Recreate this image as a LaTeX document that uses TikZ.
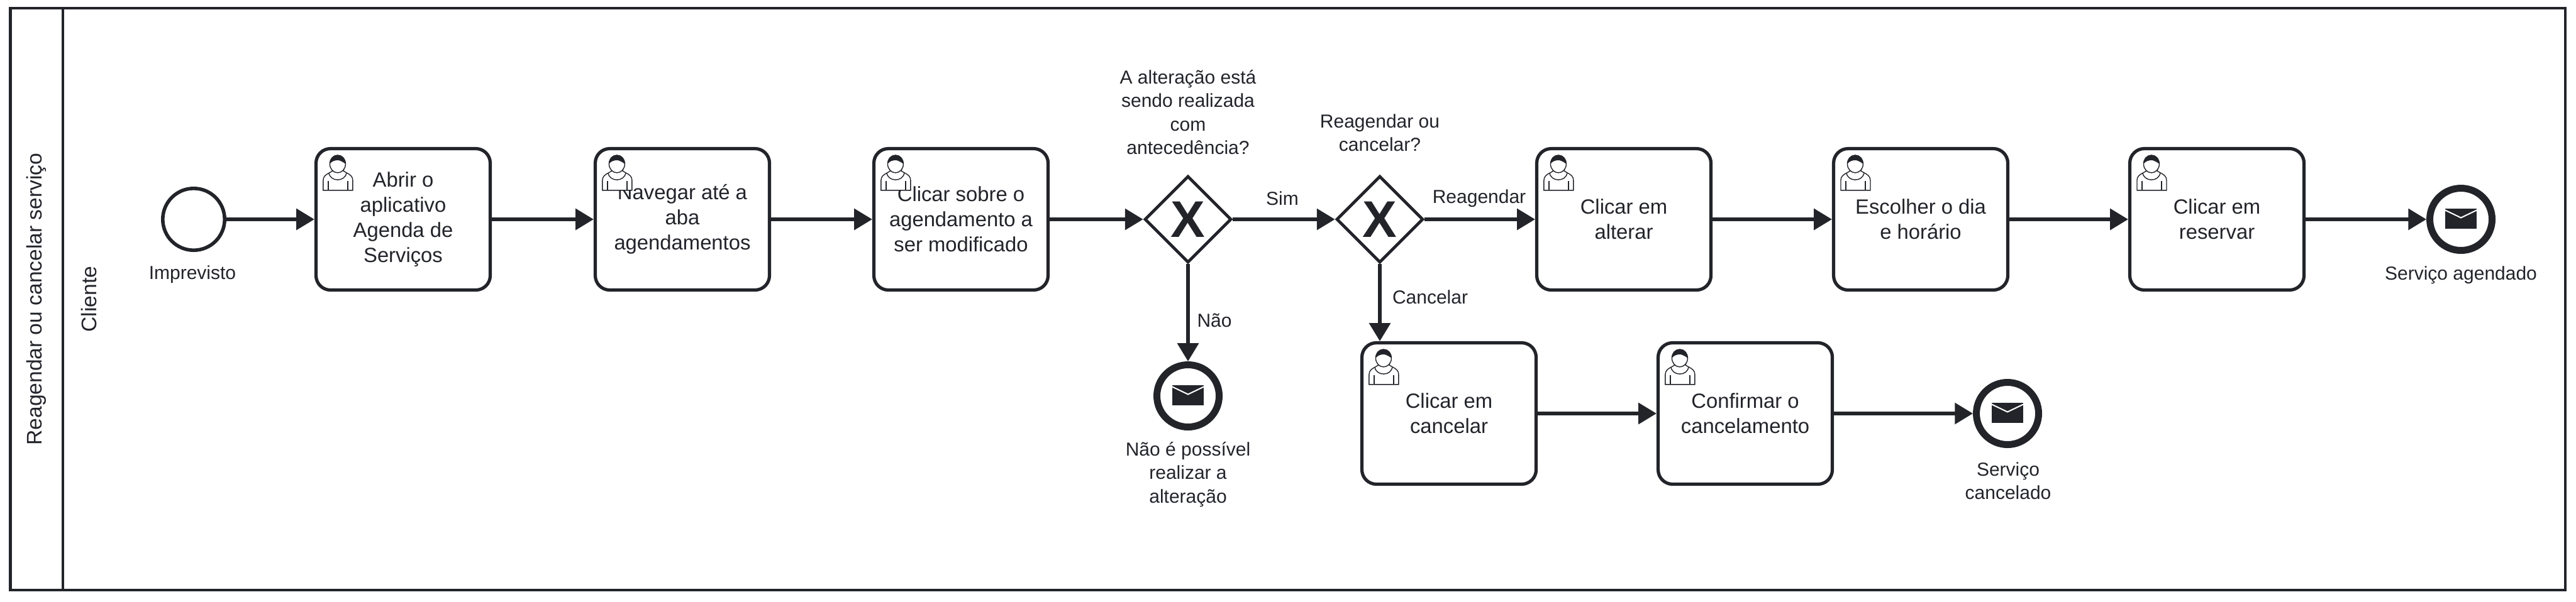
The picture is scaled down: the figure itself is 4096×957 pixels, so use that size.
\documentclass[tikz,border=0pt]{standalone}
\usepackage{fontspec}
\setmainfont{Liberation Sans}
\usetikzlibrary{arrows.meta,shapes.geometric}
\definecolor{ink}{HTML}{22242A}
\tikzset{
  every node/.style={text=ink},
  task/.style={draw=ink,fill=white,line width=1.3pt,rounded corners=5.75pt,minimum width=69.25pt,minimum height=56.25pt,inner sep=0pt,align=center,font=\fontsize{8.2}{10}\selectfont},
  startev/.style={draw=ink,fill=white,circle,line width=1.4pt,minimum size=24.6pt,inner sep=0pt},
  endev/.style={draw=ink,fill=white,circle,line width=2.75pt,minimum size=24.75pt,inner sep=0pt},
  gate/.style={draw=ink,fill=white,diamond,aspect=1,line width=1.2pt,minimum width=34.5pt,minimum height=34.5pt,inner sep=0pt,font=\fontsize{20.5}{21}\selectfont\bfseries},
  lbl/.style={inner sep=0pt,align=center,font=\fontsize{7.5}{9.3}\selectfont},
  lane/.style={inner sep=0pt,rotate=90,font=\fontsize{8.4}{10}\selectfont},
  flow/.style={draw=ink,line width=1.4pt,-{Triangle[length=7.2pt,width=8.3pt]}},
  pool/.style={draw=ink,line width=1.1pt},
  usericon/.pic={
    \draw[ink,line width=0.35pt,fill=white] (28,35) -- (29,38) -- (24,41) .. controls (18,44) and (14,47) .. (14,53) -- (14,69) -- (61,69) -- (61,53) .. controls (61,47) and (57,44) .. (51,41) -- (46,38) -- (47,35);
    \draw[ink,line width=0.35pt] (23,41) .. controls (25,56) and (49,56) .. (51,41);
    \draw[ink,line width=0.35pt] (22,54) -- (22,69) (53,54) -- (53,69);
    \draw[ink,line width=0.35pt,fill=white] (37,27) ellipse [x radius=12.5,y radius=14];
    \fill[ink] (24.5,27) .. controls (24.5,17) and (30,13) .. (37,13) .. controls (44,13) and (49.5,17) .. (49.5,27) .. controls (46,24) and (42,22) .. (38,21) .. controls (32,21) and (27,23) .. (24.5,27) -- cycle;
  },
  envelope/.pic={
    \fill[ink] (-25,-17) rectangle (25,15);
    \draw[white,line width=0.5pt] (-26,-15) -- (0,-2.5) -- (26,-15);
  }
}
\begin{document}
\begin{tikzpicture}[x=0.25pt,y=-0.25pt]
\useasboundingbox (0,0) rectangle (4096,957);
\draw[pool] (16.5,13) rectangle (4079,939);
\draw[pool] (100,13) -- (100,939);
\node[lane] (poolname) at (58,476) {Reagendar ou cancelar serviço};
\node[lane] (lanename) at (141,476) {Cliente};

\node[startev] (start) at (308,349) {};
\node[task] (t1) at (641,349) {Abrir o\\aplicativo\\Agenda de\\Serviços};
\node[task] (t2) at (1085,349) {Navegar até a\\aba\\agendamentos};
\node[task] (t3) at (1528,349) {Clicar sobre o\\agendamento a\\ser modificado};
\node[gate] (g1) at (1889,349) {X};
\node[gate] (g2) at (2194,349) {X};
\node[task] (t4) at (2582,349) {Clicar em\\alterar};
\node[task] (t5) at (3054,349) {Escolher o dia\\e horário};
\node[task] (t6) at (3525,349) {Clicar em\\reservar};
\node[endev] (e1) at (3913,349) {};
\node[endev] (e2) at (1889,630) {};
\node[task] (t7) at (2304,658) {Clicar em\\cancelar};
\node[task] (t8) at (2775,658) {Confirmar o\\cancelamento};
\node[endev] (e3) at (3192,658) {};

\foreach \t in {t1,t2,t3,t4,t5,t6,t7,t8} \pic at (\t.north west) {usericon};
\foreach \e in {e1,e2,e3} \pic at (\e.center) {envelope};

\draw[flow] (start) -- (t1);
\draw[flow] (t1) -- (t2);
\draw[flow] (t2) -- (t3);
\draw[flow] (t3) -- (g1);
\draw[flow] (g1) -- (g2);
\draw[flow] (g2) -- (t4);
\draw[flow] (t4) -- (t5);
\draw[flow] (t5) -- (t6);
\draw[flow] (t6) -- (e1);
\draw[flow] (g1) -- (e2);
\draw[flow] (g2.south) -- (g2.south |- t7.north);
\draw[flow] (t7) -- (t8);
\draw[flow] (t8) -- (e3);

\node[lbl] (limp) at (306,437) {Imprevisto};
\node[lbl] (lg1) at (1889,178.5) {A alteração está\\sendo realizada\\com\\antecedência?};
\node[lbl] (lg2) at (2194,211) {Reagendar ou\\cancelar?};
\node[lbl] (lsim) at (2039,316) {Sim};
\node[lbl] (lrea) at (2352,316) {Reagendar};
\node[lbl] (lcan) at (2274,473) {Cancelar};
\node[lbl] (lnao) at (1931,510) {Não};
\node[lbl] (le1) at (3913,438) {Serviço agendado};
\node[lbl] (le2) at (1889,755) {Não é possível\\realizar a\\alteração};
\node[lbl] (le3) at (3193,765) {Serviço\\cancelado};
\end{tikzpicture}
\end{document}
